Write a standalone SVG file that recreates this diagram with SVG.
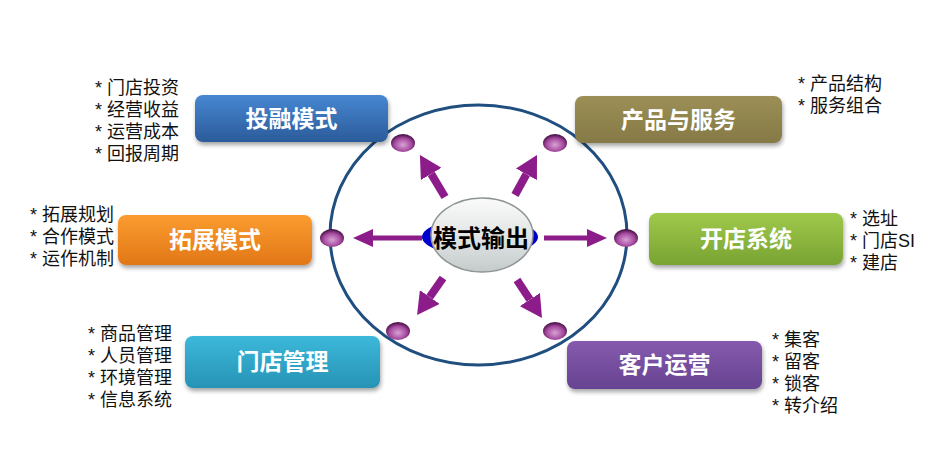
<svg xmlns="http://www.w3.org/2000/svg" width="942" height="456" viewBox="0 0 942 456">
<defs>
<style>
.lst{font-family:"Liberation Sans","Noto Sans CJK SC",sans-serif;font-size:18px;fill:#111}
.bt{font-family:"Noto Sans CJK SC","Liberation Sans",sans-serif;font-size:23px;font-weight:bold;fill:#fff;text-anchor:middle}
.ct{font-family:"Noto Sans CJK SC","Liberation Sans",sans-serif;font-size:24px;font-weight:bold;fill:#000;text-anchor:middle}
.dot{fill:url(#gDot)}
.arr{stroke:#8C1C8A;fill:none}
</style>
<filter id="sh" x="-10%" y="-20%" width="120%" height="160%">
<feDropShadow dx="1" dy="3" stdDeviation="2" flood-color="#000" flood-opacity="0.35"/>
</filter>
<linearGradient id="gBlue" x1="0" y1="0" x2="0" y2="1"><stop offset="0" stop-color="#4787D2"/><stop offset="1" stop-color="#2B5B9A"/></linearGradient>
<linearGradient id="gOrange" x1="0" y1="0" x2="0" y2="1"><stop offset="0" stop-color="#FB9C30"/><stop offset="1" stop-color="#E27717"/></linearGradient>
<linearGradient id="gOlive" x1="0" y1="0" x2="0" y2="1"><stop offset="0" stop-color="#9C8F56"/><stop offset="1" stop-color="#857946"/></linearGradient>
<linearGradient id="gGreen" x1="0" y1="0" x2="0" y2="1"><stop offset="0" stop-color="#9FC94A"/><stop offset="1" stop-color="#79A332"/></linearGradient>
<linearGradient id="gCyan" x1="0" y1="0" x2="0" y2="1"><stop offset="0" stop-color="#3CB8DA"/><stop offset="1" stop-color="#2793B5"/></linearGradient>
<linearGradient id="gPurple" x1="0" y1="0" x2="0" y2="1"><stop offset="0" stop-color="#855AAD"/><stop offset="1" stop-color="#674392"/></linearGradient>
<linearGradient id="gCenter" x1="0" y1="0" x2="0" y2="1"><stop offset="0" stop-color="#FAFAFA"/><stop offset="0.5" stop-color="#E3E6E6"/><stop offset="1" stop-color="#C4CACA"/></linearGradient>
<radialGradient id="gDot" cx="0.5" cy="0.6" r="0.6"><stop offset="0" stop-color="#D9A2D4"/><stop offset="0.6" stop-color="#A5499F"/><stop offset="1" stop-color="#3A0838"/></radialGradient>
<marker id="hH" markerUnits="userSpaceOnUse" markerWidth="20" markerHeight="18" viewBox="0 0 20 18" refX="0" refY="9" orient="auto"><path d="M0,0 L20,9 L0,18 z" fill="#8C1C8A"/></marker>
<marker id="hD" markerUnits="userSpaceOnUse" markerWidth="22" markerHeight="24" viewBox="0 0 22 24" refX="0" refY="12" orient="auto"><path d="M0,0 L22,12 L0,24 z" fill="#8C1C8A"/></marker>
</defs>
<rect width="942" height="456" fill="#fff"/>

<g id="ring">
<ellipse cx="478.5" cy="235" rx="148.5" ry="130" fill="none" stroke="#1F4E7F" stroke-width="3"/>
</g>

<g id="connectors">
<line class="arr" x1="422" y1="238" x2="373" y2="238" stroke-width="5" marker-end="url(#hH)"/>
<line class="arr" x1="544" y1="238" x2="587" y2="238" stroke-width="5" marker-end="url(#hH)"/>
<line class="arr" x1="445" y1="197" x2="431.2" y2="173.9" stroke-width="8" marker-end="url(#hD)"/>
<line class="arr" x1="515" y1="195" x2="526.4" y2="174.3" stroke-width="8" marker-end="url(#hD)"/>
<line class="arr" x1="443" y1="278" x2="429.7" y2="297" stroke-width="8" marker-end="url(#hD)"/>
<line class="arr" x1="517" y1="280" x2="529.9" y2="299.6" stroke-width="8" marker-end="url(#hD)"/>
</g>

<g id="dots">
<ellipse class="dot" cx="403" cy="143" rx="12" ry="9"/>
<ellipse class="dot" cx="555" cy="143" rx="12" ry="9"/>
<ellipse class="dot" cx="332" cy="238" rx="12" ry="9"/>
<ellipse class="dot" cx="626" cy="238" rx="12" ry="9"/>
<ellipse class="dot" cx="398" cy="331" rx="12" ry="9"/>
<ellipse class="dot" cx="555" cy="331" rx="12" ry="9"/>
</g>

<g id="center">
<ellipse cx="480" cy="237" rx="58" ry="19" fill="#0000CC"/>
<ellipse cx="482" cy="235" rx="51" ry="37" fill="url(#gCenter)" stroke="#8E9595" stroke-width="1.5"/>
<text class="ct" x="481" y="247">模式输出</text>
</g>

<g id="touzi">
<rect x="195" y="95" width="193" height="47" rx="8" fill="url(#gBlue)" filter="url(#sh)"/>
<text class="bt" x="291.5" y="127">投融模式</text>
<text class="lst"><tspan x="95" y="94">* 门店投资</tspan><tspan x="95" y="116">* 经营收益</tspan><tspan x="95" y="138">* 运营成本</tspan><tspan x="95" y="160">* 回报周期</tspan></text>
</g>

<g id="tuozhan">
<rect x="118" y="215" width="194" height="50" rx="8" fill="url(#gOrange)" filter="url(#sh)"/>
<text class="bt" x="215" y="248">拓展模式</text>
<text class="lst"><tspan x="30" y="221">* 拓展规划</tspan><tspan x="30" y="243">* 合作模式</tspan><tspan x="30" y="265">* 运作机制</tspan></text>
</g>

<g id="chanpin">
<rect x="575" y="96" width="207" height="47" rx="8" fill="url(#gOlive)" filter="url(#sh)"/>
<text class="bt" x="678.5" y="128">产品与服务</text>
<text class="lst"><tspan x="798" y="90">* 产品结构</tspan><tspan x="798" y="112">* 服务组合</tspan></text>
</g>

<g id="kaidian">
<rect x="649" y="213" width="194" height="52" rx="8" fill="url(#gGreen)" filter="url(#sh)"/>
<text class="bt" x="746" y="247">开店系统</text>
<text class="lst"><tspan x="850" y="225">* 选址</tspan><tspan x="850" y="247">* 门店SI</tspan><tspan x="850" y="269">* 建店</tspan></text>
</g>

<g id="mendian">
<rect x="185" y="336" width="195" height="52" rx="8" fill="url(#gCyan)" filter="url(#sh)"/>
<text class="bt" x="282.5" y="370">门店管理</text>
<text class="lst"><tspan x="88" y="340">* 商品管理</tspan><tspan x="88" y="362">* 人员管理</tspan><tspan x="88" y="384">* 环境管理</tspan><tspan x="88" y="406">* 信息系统</tspan></text>
</g>

<g id="kehu">
<rect x="567" y="341" width="195" height="48" rx="8" fill="url(#gPurple)" filter="url(#sh)"/>
<text class="bt" x="664.5" y="373">客户运营</text>
<text class="lst"><tspan x="772" y="346">* 集客</tspan><tspan x="772" y="368">* 留客</tspan><tspan x="772" y="390">* 锁客</tspan><tspan x="772" y="412">* 转介绍</tspan></text>
</g>
</svg>
